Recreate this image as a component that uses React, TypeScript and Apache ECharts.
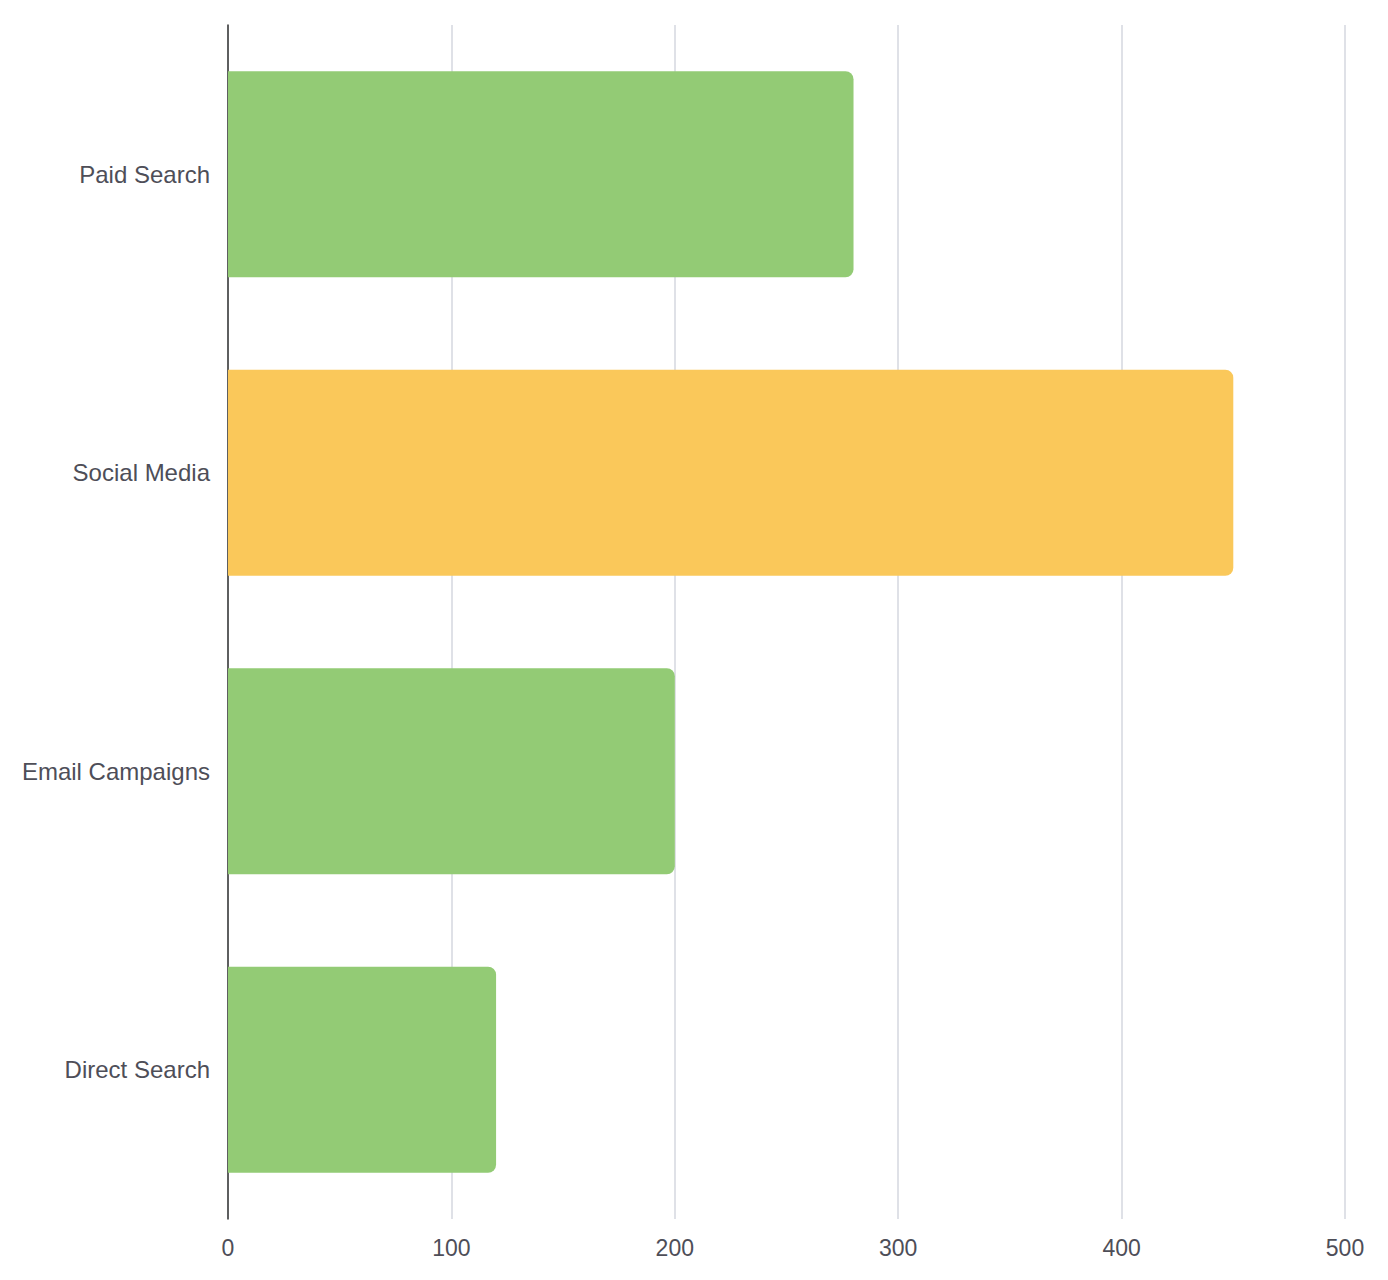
import React, { useEffect, useRef } from "react";
import * as echarts from "echarts";

const categories = ["Paid Search", "Social Media", "Email Campaigns", "Direct Search"];
const values = [280, 450, 200, 120];
const barColors = ["#93CB75", "#FAC85A", "#93CB75", "#93CB75"];
const xTicks = { min: 0, max: 500, interval: 100 };

export default function App() {
  const ref = useRef<HTMLDivElement>(null);
  useEffect(() => {
    document.body.style.margin = "0";
    const chart = echarts.init(ref.current!, undefined, { renderer: "svg" });
    chart.setOption({
      animation: false,
      grid: { left: 228, right: 43, top: 25, bottom: 61, containLabel: false },
      xAxis: {
        type: "value",
        min: xTicks.min,
        max: xTicks.max,
        interval: xTicks.interval,
        axisLine: { show: false },
        axisTick: { show: false },
        splitLine: { show: true, lineStyle: { color: "#D5D7DF", width: 1.5 } },
        axisLabel: {
          color: "#4E4E58",
          fontSize: 23,
          fontFamily: "Liberation Sans, Arial, sans-serif",
          margin: 17,
        },
      },
      yAxis: {
        type: "category",
        data: categories,
        inverse: true,
        axisLine: { show: true, lineStyle: { color: "#333333", width: 1.5 } },
        axisTick: { show: false },
        splitLine: { show: false },
        axisLabel: {
          color: "#4E4E58",
          fontSize: 24,
          fontFamily: "Liberation Sans, Arial, sans-serif",
          margin: 18,
        },
      },
      series: [
        {
          type: "bar",
          data: values.map((v, i) => ({ value: v, itemStyle: { color: barColors[i] } })),
          barCategoryGap: "31%",
          itemStyle: { borderRadius: [0, 8, 8, 0] },
        },
      ],
    });
    return () => chart.dispose();
  }, []);
  return <div ref={ref} style={{ width: 1388, height: 1280 }} />;
}
